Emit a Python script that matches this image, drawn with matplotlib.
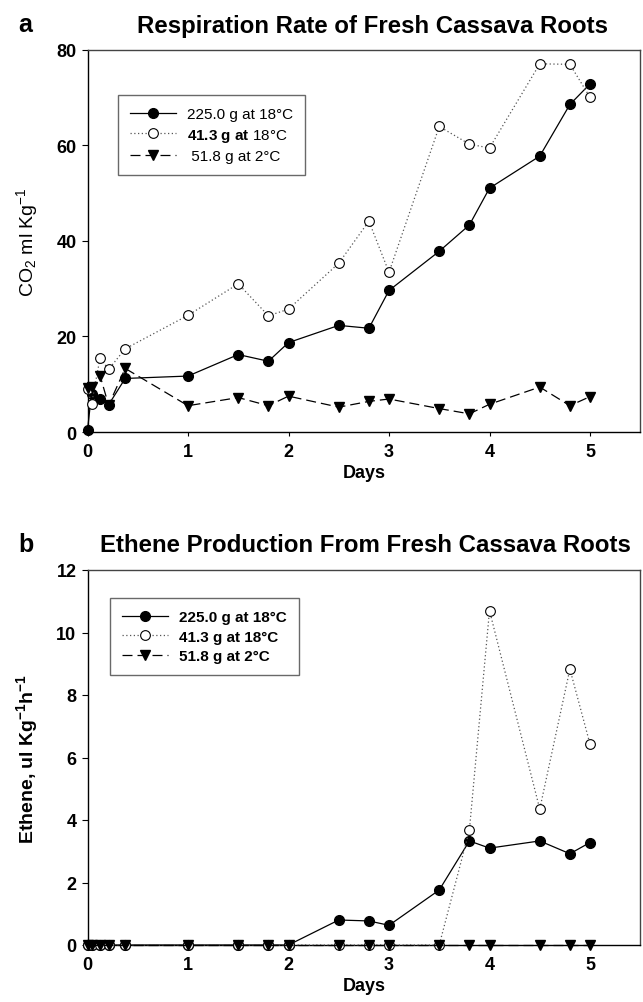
import matplotlib
matplotlib.use("Agg")
import matplotlib.pyplot as plt

plt.rcParams['font.family'] = ['Liberation Sans', 'DejaVu Sans']
plt.rcParams['mathtext.fontset'] = 'custom'
plt.rcParams['mathtext.rm'] = 'Liberation Sans'
plt.rcParams['mathtext.bf'] = 'Liberation Sans:bold'
plt.rcParams['mathtext.it'] = 'Liberation Sans:italic'

# ---- data ----
days = [0, 0.04, 0.125, 0.21, 0.375, 1, 1.5, 1.8, 2, 2.5, 2.8, 3, 3.5, 3.8, 4, 4.5, 4.8, 5]

co2_225 = [0.4, 8.0, 7.0, 5.7, 11.2, 11.7, 16.2, 14.8, 18.7, 22.3, 21.7, 29.6, 37.8, 43.3, 51.0, 57.7, 68.5, 72.8]
co2_413 = [8.9, 5.8, 15.5, 13.1, 17.4, 24.4, 31.0, 24.3, 25.7, 35.3, 44.1, 33.4, 63.9, 60.2, 59.4, 77.0, 76.9, 70.0]
co2_518 = [9.2, 9.5, 11.8, 5.6, 13.3, 5.5, 7.2, 5.5, 7.5, 5.2, 6.4, 6.9, 4.9, 3.8, 5.8, 9.4, 5.5, 7.4]

eth_225 = [0, 0, 0, 0, 0, 0, 0, 0, 0, 0.80, 0.77, 0.63, 1.76, 3.33, 3.10, 3.33, 2.92, 3.28]
eth_413 = [0, 0, 0, 0, 0, 0, 0, 0, 0, 0, 0, 0, 0, 3.68, 10.70, 4.35, 8.83, 6.43]
eth_518 = [0] * 18

labels_a = ['225.0 g at 18°C', r'$\mathbf{41.3\ g\ at}$ 18°C', ' 51.8 g at 2°C']
labels_b = ['225.0 g at 18°C', '41.3 g at 18°C', '51.8 g at 2°C']

fig = plt.figure(figsize=(6.43, 10.03), dpi=100)
W, H = 643.0, 1003.0

def make_axes(top_px, bottom_px):
    left = 87.5 / W
    width = (5.5 * 100.5) / W
    return fig.add_axes([left, 1 - bottom_px / H, width, (bottom_px - top_px) / H])

def draw(ax, s1, s2, s3, labels, legend_bold, legend_box):
    ax.plot(days, s1, color='black', lw=0.9, ls='-', marker='o', ms=7,
            mfc='black', mec='black', label=labels[0], clip_on=False, zorder=3)
    ax.plot(days, s2, color='#555555', lw=0.9, ls=(0, (1, 2)), marker='o', ms=7,
            mfc='white', mec='black', mew=0.8, label=labels[1], clip_on=False, zorder=4)
    ax.plot(days, s3, color='black', lw=0.9, ls=(0, (8, 4)), marker='v', ms=7,
            mfc='black', mec='black', label=labels[2], clip_on=False, zorder=5)
    ax.set_xlim(0, 5.5)
    ax.set_xticks([0, 1, 2, 3, 4, 5])
    for sp in ax.spines.values():
        sp.set_linewidth(1.0)
    ax.spines['top'].set_color('#444444')
    ax.spines['right'].set_color('#444444')
    ax.tick_params(axis='y', direction='out', length=4, width=0.8, labelsize=13, pad=4)
    ax.tick_params(axis='x', direction='out', length=3, width=0.8, labelsize=13, pad=5)
    for t in ax.get_xticklabels() + ax.get_yticklabels():
        t.set_fontweight('bold')
    ax.set_xlabel('Days', fontsize=13, fontweight='bold', labelpad=3)
    leg = ax.legend(loc='upper left', bbox_to_anchor=legend_box, frameon=True,
                    fancybox=False, edgecolor='#444444', handlelength=3.0,
                    borderpad=0.8, labelspacing=0.35, handletextpad=0.7,
                    borderaxespad=0,
                    prop={'family': ['Liberation Sans'], 'size': 11,
                          'weight': 'bold' if legend_bold else 'normal'})
    leg.get_frame().set_linewidth(1.0)
    return ax

# panel a
ax1 = make_axes(50.5, 433)
draw(ax1, co2_225, co2_413, co2_518, labels_a, False,
     ((118 - 87.5) / 552.75, 1 - (96 - 50.5) / 382.5))
ax1.set_ylim(0, 80)
ax1.set_yticks([0, 20, 40, 60, 80])
ax1.set_ylabel(r'CO$_2$ ml Kg$^{\mathrm{-1}}$', fontsize=14,
               family=['Liberation Sans'], labelpad=12)
fig.text(18 / W, 1 - 25 / H, 'a', fontsize=18, fontweight='bold', va='center',
         family=['Liberation Sans'])
fig.text(372 / W, 1 - 26 / H, 'Respiration Rate of Fresh Cassava Roots',
         fontsize=17.3, fontweight='bold', ha='center', va='center')

# panel b
ax2 = make_axes(571, 946)
draw(ax2, eth_225, eth_413, eth_518, labels_b, True,
     ((110 - 87.5) / 552.75, 1 - (599 - 571) / 375.0))
ax2.set_ylim(0, 12)
ax2.set_yticks([0, 2, 4, 6, 8, 10, 12])
ax2.set_ylabel(r'Ethene, ul Kg$^{\mathbf{-1}}$h$^{\mathbf{-1}}$', fontsize=14,
               fontweight='bold', family=['Liberation Sans'], labelpad=12)
fig.text(18 / W, 1 - 545 / H, 'b', fontsize=18, fontweight='bold', va='center',
         family=['Liberation Sans'])
fig.text(365 / W, 1 - 546 / H, 'Ethene Production From Fresh Cassava Roots',
         fontsize=17.3, fontweight='bold', ha='center', va='center')

fig.savefig('out.png', dpi=100)
